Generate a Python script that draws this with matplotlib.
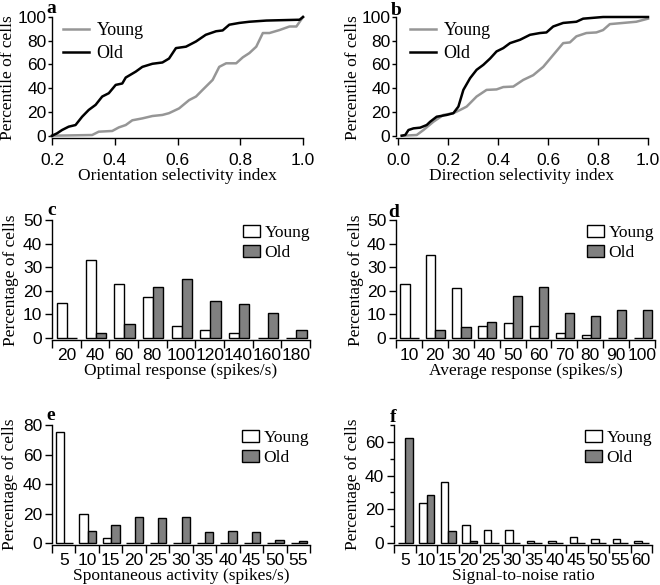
import matplotlib
matplotlib.use('Agg')
import matplotlib.pyplot as plt
import numpy as np
from matplotlib.ticker import FixedLocator, NullFormatter

# ---------------- data ----------------
# (a) orientation selectivity index, cumulative percentile
osi_young_x = [0.2, 0.328, 0.349, 0.392, 0.413, 0.435, 0.456, 0.488, 0.52, 0.552, 0.573, 0.605,
               0.637, 0.659, 0.68, 0.712, 0.733, 0.755, 0.787, 0.808, 0.829, 0.851, 0.872, 0.893,
               0.925, 0.957, 0.979, 1.0]
osi_young_y = [0, 0.6, 3.4, 4, 7, 9, 13, 14.6, 16.6, 17.5, 19, 23,
               30, 33, 38.6, 47, 58, 61, 61, 66, 69.6, 75, 86.5, 86.5,
               89, 92, 92, 100]
osi_old_x = [0.2, 0.216, 0.232, 0.253, 0.275, 0.296, 0.317, 0.339, 0.36, 0.381, 0.403, 0.424,
             0.435, 0.467, 0.488, 0.52, 0.552, 0.573, 0.595, 0.627, 0.659, 0.69, 0.723, 0.744,
             0.765, 0.797, 0.829, 0.883, 0.989, 1.0]
osi_old_y = [0, 2, 4.8, 7.6, 9, 16, 21.7, 26, 33, 35.8, 42.8, 44,
             49, 54, 58, 60.6, 61.7, 65, 73.8, 75, 79.4, 85, 88, 88.7,
             93.5, 95, 96, 97, 97.7, 100]

# (b) direction selectivity index, cumulative percentile
dsi_young_x = [0.013, 0.073, 0.1, 0.14, 0.18, 0.22, 0.247, 0.273, 0.313, 0.353, 0.393, 0.42,
               0.46, 0.5, 0.54, 0.58, 0.62, 0.66, 0.687, 0.713, 0.753, 0.793, 0.82, 0.847,
               0.9, 0.953, 1.0]
dsi_young_y = [0, 0.6, 4.8, 11.8, 17.5, 19, 21.7, 24.5, 33, 38.6, 39, 41,
               41.4, 47, 51, 58, 68, 78, 78.6, 83.7, 86.5, 87, 89, 94,
               95, 96, 98.6]
dsi_old_x = [0.013, 0.027, 0.04, 0.06, 0.087, 0.113, 0.127, 0.153, 0.193, 0.22, 0.24, 0.26,
             0.287, 0.313, 0.34, 0.367, 0.393, 0.42, 0.447, 0.487, 0.527, 0.567, 0.593, 0.62,
             0.66, 0.713, 0.74, 0.82, 1.0]
dsi_old_y = [0, 0.6, 4.8, 6.2, 6.8, 9, 11.8, 16, 17.5, 19, 24.5, 38.6,
             48.5, 55.5, 59.7, 65, 71, 73.8, 78, 80.8, 85, 86.5, 87, 92,
             95, 96, 98.6, 100, 100]

# (c) optimal response
opt_labels = ['20', '40', '60', '80', '100', '120', '140', '160', '180']
opt_young = [15, 33, 22.7, 17.5, 5, 3.5, 2.3, 0, 0]
opt_old = [0, 2.2, 6, 21.5, 25, 15.5, 14.3, 10.5, 3.3]

# (d) average response
avg_labels = ['10', '20', '30', '40', '50', '60', '70', '80', '90', '100']
avg_young = [22.7, 35.3, 21.3, 5, 6.2, 5, 2.3, 1.2, 0, 0]
avg_old = [0, 3.4, 4.6, 7, 18, 21.5, 10.5, 9.3, 11.8, 11.8]

# (e) spontaneous activity
spon_labels = ['5', '10', '15', '20', '25', '30', '35', '40', '45', '50', '55']
spon_young = [75.5, 20, 3.5, 0, 0, 0, 0, 0, 0, 0, 0]
spon_old = [0, 8.2, 12, 18, 17, 18, 7.2, 8.3, 7.2, 2.2, 1.1]

# (f) signal-to-noise ratio
snr_labels = ['5', '10', '15', '20', '25', '30', '35', '40', '45', '50', '55', '60']
snr_young = [0, 24, 36.5, 11, 7.5, 7.5, 1, 1, 3.5, 2.3, 2.3, 1]
snr_old = [62.5, 28.7, 7, 1, 0, 0, 0, 0, 0, 0, 0, 0]

# ---------------- style ----------------
SERIF = 'Liberation Serif'
SANS = 'Liberation Sans'
plt.rcParams['font.family'] = [SANS, 'DejaVu Sans']
W, H = 660, 585
fig = plt.figure(figsize=(W / 100, H / 100), dpi=100)
TICK_FS = 12.5
LAB_FS = 12.5
LEG_FS = 12.5
GRAY_LINE = '#969696'
GRAY_BAR = '#808080'


def add_axes(x0, y0, x1, y1):
    return fig.add_axes([x0 / W, 1 - y1 / H, (x1 - x0) / W, (y1 - y0) / H])


def style(ax):
    for s in ('top', 'right'):
        ax.spines[s].set_visible(False)
    for s in ('left', 'bottom'):
        ax.spines[s].set_linewidth(1.0)
    ax.tick_params(which='both', direction='out', width=1.0, labelsize=TICK_FS)


def letter(s, xpx, ypx):
    fig.text(xpx / W, 1 - ypx / H, s, fontfamily=SERIF, fontweight='bold',
             fontsize=14, ha='left', va='baseline')


def ylabel(ax, text, offset_px, width_px):
    ax.set_ylabel(text, fontfamily=SERIF, fontsize=LAB_FS, va='center')
    ax.yaxis.set_label_coords(-offset_px / width_px, 0.5)


def cdf_panel(box, xs_y, ys_y, xs_o, ys_o, xlim, xticks, xlabel_txt, yoff, leg_xy):
    ax = add_axes(*box)
    ax.plot(xs_y, ys_y, color=GRAY_LINE, lw=1.8, label='Young', clip_on=False)
    ax.plot(xs_o, ys_o, color='black', lw=1.8, label='Old', clip_on=False)
    ax.set_xlim(*xlim)
    ax.set_ylim(-1.5, 100)
    ax.set_yticks([0, 20, 40, 60, 80, 100])
    ax.set_xticks(xticks)
    ax.set_xticklabels(['%.1f' % v for v in xticks])
    style(ax)
    ax.tick_params(axis='x', length=5, pad=6)
    ax.tick_params(axis='y', length=3, pad=1)
    ax.spines['left'].set_bounds(0, 100)
    ax.set_xlabel(xlabel_txt, fontfamily=SERIF, fontsize=LAB_FS, labelpad=0)
    ylabel(ax, 'Percentile of cells', yoff, box[2] - box[0])
    ax.legend(loc='upper left', bbox_to_anchor=(leg_xy[0] / W, 1 - leg_xy[1] / H),
              bbox_transform=fig.transFigure, frameon=False, borderpad=0, borderaxespad=0,
              handlelength=1.45, handletextpad=0.4, labelspacing=0.33,
              prop={'family': SERIF, 'size': LEG_FS + 0.5})
    return ax


def bar_panel(box, labels, young, old, ymax, yticks, yminor, xlabel_txt, yoff, leg_xy):
    ax = add_axes(*box)
    n = len(labels)
    idx = np.arange(n)
    ax.bar(idx + 0.17, young, width=0.355, align='edge', facecolor='white',
           edgecolor='black', linewidth=1.0, label='Young')
    ax.bar(idx + 0.525, old, width=0.355, align='edge', facecolor=GRAY_BAR,
           edgecolor='black', linewidth=1.0, label='Old')
    ax.set_xlim(0, n)
    ax.set_ylim(-ymax * 0.012, ymax)
    ax.set_yticks(yticks)
    if yminor:
        ax.yaxis.set_minor_locator(FixedLocator(yminor))
    ax.set_xticks(idx + 0.5)
    ax.set_xticklabels(labels)
    ax.xaxis.set_minor_locator(FixedLocator(np.arange(n + 1)))
    ax.xaxis.set_minor_formatter(NullFormatter())
    style(ax)
    ax.tick_params(axis='x', which='major', length=0, pad=6)
    ax.tick_params(axis='x', which='minor', length=6)
    ax.tick_params(axis='y', which='major', length=5, pad=2)
    ax.tick_params(axis='y', which='minor', length=3)
    ax.spines['left'].set_bounds(0, ymax)
    ax.set_xlabel(xlabel_txt, fontfamily=SERIF, fontsize=LAB_FS, labelpad=0)
    ylabel(ax, 'Percentage of cells', yoff, box[2] - box[0])
    ax.legend(loc='upper left', bbox_to_anchor=(leg_xy[0] / W, 1 - leg_xy[1] / H),
              bbox_transform=fig.transFigure, frameon=False, borderpad=0, borderaxespad=0,
              handlelength=1.0, handleheight=0.7, handletextpad=0.25, labelspacing=0.22,
              prop={'family': SERIF, 'size': LEG_FS})
    return ax


axa = cdf_panel((52, 17, 303, 137.5), osi_young_x, osi_young_y, osi_old_x, osi_old_y,
                (0.2, 1.0), [0.2, 0.4, 0.6, 0.8, 1.0], 'Orientation selectivity index', 44, (63, 22))
axb = cdf_panel((396, 17, 648, 137.5), dsi_young_x, dsi_young_y, dsi_old_x, dsi_old_y,
                (-0.01, 1.0), [0.0, 0.2, 0.4, 0.6, 0.8, 1.0], 'Direction selectivity index', 43, (410, 22))

axc = bar_panel((52, 220, 310, 339.5), opt_labels, opt_young, opt_old, 50,
                [0, 10, 20, 30, 40, 50], None, 'Optimal response (spikes/s)', 41, (243, 225))
axd = bar_panel((396, 220, 655, 339.5), avg_labels, avg_young, avg_old, 50,
                [0, 10, 20, 30, 40, 50], None, 'Average response (spikes/s)', 40, (587, 225))
axe = bar_panel((52, 425, 310, 544.5), spon_labels, spon_young, spon_old, 80,
                [0, 20, 40, 60, 80], None, 'Spontaneous activity (spikes/s)', 42, (242, 430))
axf = bar_panel((394, 425, 652, 544.5), snr_labels, snr_young, snr_old, 70,
                [0, 20, 40, 60], [10, 30, 50, 70], 'Signal-to-noise ratio', 41, (585, 430))

letter('a', 46, 13)
letter('b', 391, 15)
letter('c', 47, 215)
letter('d', 388, 217)
letter('e', 46, 420)
letter('f', 390, 422)

fig.savefig('out.png', dpi=100)
